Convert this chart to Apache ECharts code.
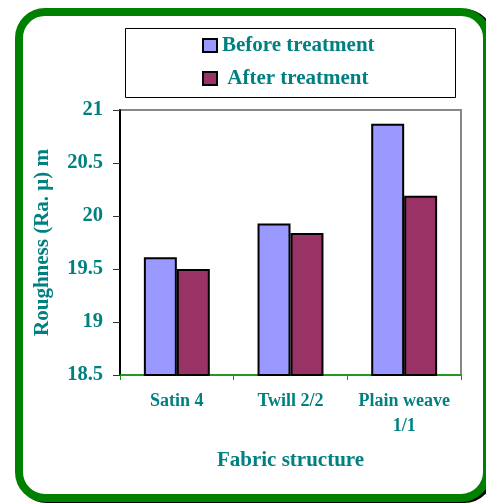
<!DOCTYPE html>
<html>
<head>
<meta charset="utf-8">
<script src="https://cdn.jsdelivr.net/npm/echarts@6/dist/echarts.min.js"></script>
<style>html,body{margin:0;padding:0;background:#fff;}#c{width:486px;height:503px;}</style>
</head>
<body>
<div id="c"></div>
<script>
const categories = ['Satin 4', 'Twill 2/2', 'Plain weave\n1/1'];
const beforeTreatment = [19.61, 19.93, 20.87];
const afterTreatment = [19.50, 19.84, 20.19];
const seriesNames = ['Before treatment', 'After treatment'];
const yTicks = {min: 18.5, max: 21, interval: 0.5};

const teal = '#008080';
const font = '"Liberation Serif", "Times New Roman", serif';
const chart = echarts.init(document.getElementById('c'), null, {renderer: 'canvas'});
chart.setOption({
  animation: false,
  backgroundColor: '#fff',
  textStyle: {fontFamily: font},
  graphic: [
    {type: 'rect', z: -2, shape: {x: 21, y: 13, width: 469, height: 486, r: 26},
     style: {fill: 'none', stroke: '#000', lineWidth: 8}},
    {type: 'rect', z: -1, shape: {x: 19, y: 12, width: 468, height: 486, r: 26},
     style: {fill: '#fff', stroke: '#008000', lineWidth: 8}},
    {type: 'rect', z: 0, shape: {x: 125.5, y: 28.5, width: 330, height: 69},
     style: {fill: 'none', stroke: '#000', lineWidth: 1}}
  ],
  legend: {
    orient: 'vertical',
    left: 202, top: 35,
    padding: 0,
    itemWidth: 14, itemHeight: 13,
    itemGap: 12,
    icon: 'rect',
    formatter: function (n) { return n === seriesNames[1] ? ' ' + n : n; },
    textStyle: {color: teal, fontFamily: font, fontWeight: 'bold', fontSize: 21},
    data: seriesNames
  },
  grid: {left: 120, right: 25, top: 110, bottom: 128, show: true, borderColor: '#888', borderWidth: 2, containLabel: false},
  xAxis: {
    type: 'category',
    data: categories,
    axisLine: {lineStyle: {color: '#00a000', width: 1.5}},
    axisTick: {show: true, length: 5, lineStyle: {color: '#00a000'}},
    axisLabel: {color: teal, fontFamily: font, fontWeight: 'bold', fontSize: 18, lineHeight: 25, margin: 14, interval: 0},
    name: 'Fabric structure',
    nameLocation: 'middle',
    nameGap: 75,
    nameTextStyle: {color: teal, fontFamily: font, fontWeight: 'bold', fontSize: 21}
  },
  yAxis: {
    type: 'value',
    min: yTicks.min, max: yTicks.max, interval: yTicks.interval,
    splitLine: {show: false},
    axisLine: {show: true, lineStyle: {color: '#000', width: 2}},
    axisTick: {show: true, length: 7, lineStyle: {color: '#333'}},
    axisLabel: {color: teal, fontFamily: font, fontWeight: 'bold', fontSize: 20.5, margin: 17},
    name: 'Roughness (Ra. μ) m',
    nameLocation: 'middle',
    nameRotate: 90,
    nameGap: 67,
    nameTextStyle: {color: teal, fontFamily: font, fontWeight: 'bold', fontSize: 21}
  },
  series: [
    {name: seriesNames[0], type: 'bar', data: beforeTreatment, barGap: '0%', barCategoryGap: '42%',
     itemStyle: {color: '#9999ff', borderColor: '#000', borderWidth: 2}},
    {name: seriesNames[1], type: 'bar', data: afterTreatment, barGap: '0%', barCategoryGap: '42%',
     itemStyle: {color: '#993366', borderColor: '#000', borderWidth: 2}}
  ]
});
</script>
</body>
</html>
